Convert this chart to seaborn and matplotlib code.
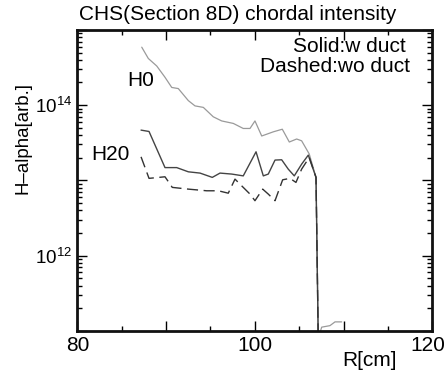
import numpy as np
import pandas as pd
import matplotlib
matplotlib.use("Agg")
import matplotlib.pyplot as plt
import matplotlib.ticker as mticker
import matplotlib.transforms as mtransforms
import seaborn as sns

# --- data (R in cm, H-alpha in arb. units, log10) ---
r_h0 = [87.26, 88.0, 88.95, 89.88, 90.64, 91.38, 92.51, 93.26, 94.2, 95.32,
        96.27, 97.58, 98.7, 99.46, 100.02, 100.78, 102.08, 103.1, 103.89,
        104.72, 105.28, 106.14, 106.9, 107.15, 107.54, 108.47, 109.04, 109.79]
log_h0 = [14.77, 14.62, 14.52, 14.37, 14.235, 14.22, 14.06, 13.99, 13.97, 13.845,
          13.79, 13.757, 13.69, 13.69, 13.79, 13.59, 13.645, 13.68, 13.51,
          13.55, 13.526, 13.35, 13.04, 10.9, 11.05, 11.07, 11.12, 11.12]

r_h20_w = [87.18, 88.08, 89.88, 91.2, 92.51, 93.83, 95.21, 96.08, 97.4, 98.7,
           100.14, 100.96, 101.52, 102.28, 103.03, 103.77, 104.45, 105.28,
           106.03, 106.9, 107.15]
log_h20_w = [13.668, 13.65, 13.17, 13.17, 13.114, 13.097, 13.04, 13.097, 13.084,
             13.06, 13.38, 13.06, 13.084, 13.27, 13.274, 13.15, 13.06, 13.216,
             13.336, 13.04, 10.9]

r_h20_wo = [87.18, 88.08, 89.88, 90.7, 92.51, 94.58, 95.89, 97.01, 97.77, 98.52,
            99.46, 100.02, 100.89, 101.52, 102.28, 103.14, 103.97, 104.64,
            105.28, 106.14, 106.9, 107.15]
log_h20_wo = [13.313, 13.027, 13.048, 12.907, 12.884, 12.862, 12.862, 12.83,
              13.017, 12.928, 12.818, 12.73, 12.884, 12.818, 12.73, 13.008,
              13.027, 12.973, 13.15, 13.305, 13.04, 10.9]

x_labelled = [80, 100, 120]
y_labelled = [12, 14]
title = "CHS(Section 8D) chordal intensity"


def make_df(r, logv):
    return pd.DataFrame({"R": r, "I": np.power(10.0, logv)})


sns.set_style("ticks")
plt.rcParams['font.family'] = ['Liberation Sans', 'DejaVu Sans']
plt.rcParams['mathtext.default'] = 'regular'
plt.rcParams['text.color'] = 'black'
plt.rcParams['axes.labelcolor'] = 'black'
plt.rcParams['xtick.color'] = 'black'
plt.rcParams['ytick.color'] = 'black'

fig = plt.figure(figsize=(4.47, 3.83), dpi=100)
ax = fig.add_axes([0.173, 0.136, 0.794, 0.786])

sns.lineplot(data=make_df(r_h0, log_h0), x="R", y="I", ax=ax,
             color="#9a9a9a", linewidth=0.9, estimator=None)
sns.lineplot(data=make_df(r_h20_w, log_h20_w), x="R", y="I", ax=ax,
             color="#444444", linewidth=1.0, estimator=None)
sns.lineplot(data=make_df(r_h20_wo, log_h20_wo), x="R", y="I", ax=ax,
             color="#333333", linewidth=1.0, estimator=None,
             linestyle=(0, (8, 4)))

ax.set_yscale("log")
ax.set_xlim(80, 120)
ax.set_ylim(1e11, 1e15)

ax.xaxis.set_major_locator(mticker.MultipleLocator(10))
ax.xaxis.set_minor_locator(mticker.MultipleLocator(5))
ax.xaxis.set_major_formatter(mticker.FuncFormatter(
    lambda v, p: "%d" % v if round(v) in x_labelled else ""))
ax.yaxis.set_major_locator(mticker.LogLocator(base=10, numticks=10))
ax.yaxis.set_minor_locator(mticker.LogLocator(base=10, subs=np.arange(2, 10), numticks=20))
ax.yaxis.set_major_formatter(mticker.FuncFormatter(
    lambda v, p: r"$10^{%d}$" % round(np.log10(v)) if round(np.log10(v)) in y_labelled else ""))
ax.yaxis.set_minor_formatter(mticker.NullFormatter())

ax.tick_params(which="both", direction="in", top=True, right=True, width=1.0)
ax.tick_params(axis="x", labelsize=15)
ax.tick_params(axis="y", labelsize=13.5)
ax.tick_params(which="major", length=7, pad=4)
ax.tick_params(which="minor", length=3.5)
for s in ax.spines.values():
    s.set_linewidth(2.0)
    s.set_color("#111111")

ax.set_xlabel("")
ax.set_ylabel("")
fig.text(23 / 447, 1 - 138 / 383, "H\u2013alpha[arb.]", fontsize=13.4,
         rotation=90, ha="center", va="center")
fig.text(370 / 447, 1 - 360 / 383, "R[cm]", fontsize=15, ha="center", va="center")
fig.text(238 / 447, 1 - 15 / 383, title, fontsize=15, ha="center", va="center")

ax.annotate("H0", xy=(141 / 447, 1 - 80 / 383), xycoords="figure fraction",
            fontsize=15, ha="center", va="center")
ax.annotate("H20", xy=(110 / 447, 1 - 155 / 383), xycoords="figure fraction",
            fontsize=15, ha="center", va="center")
ax.annotate("Solid:w duct", xy=(406 / 447, 1 - 46 / 383), xycoords="figure fraction",
            fontsize=15, ha="right", va="center")
ax.annotate("Dashed:wo duct", xy=(410 / 447, 1 - 67 / 383), xycoords="figure fraction",
            fontsize=15, ha="right", va="center")

# the "120" label sits right at the figure edge; nudge it inward a little
fig.canvas.draw()
for tick in ax.xaxis.get_major_ticks():
    if abs(tick.get_loc() - 120) < 1e-6:
        lab = tick.label1
        lab.set_transform(lab.get_transform() +
                          mtransforms.ScaledTranslation(-0.04, 0, fig.dpi_scale_trans))

fig.savefig("out.png", dpi=100)
plt.close(fig)
